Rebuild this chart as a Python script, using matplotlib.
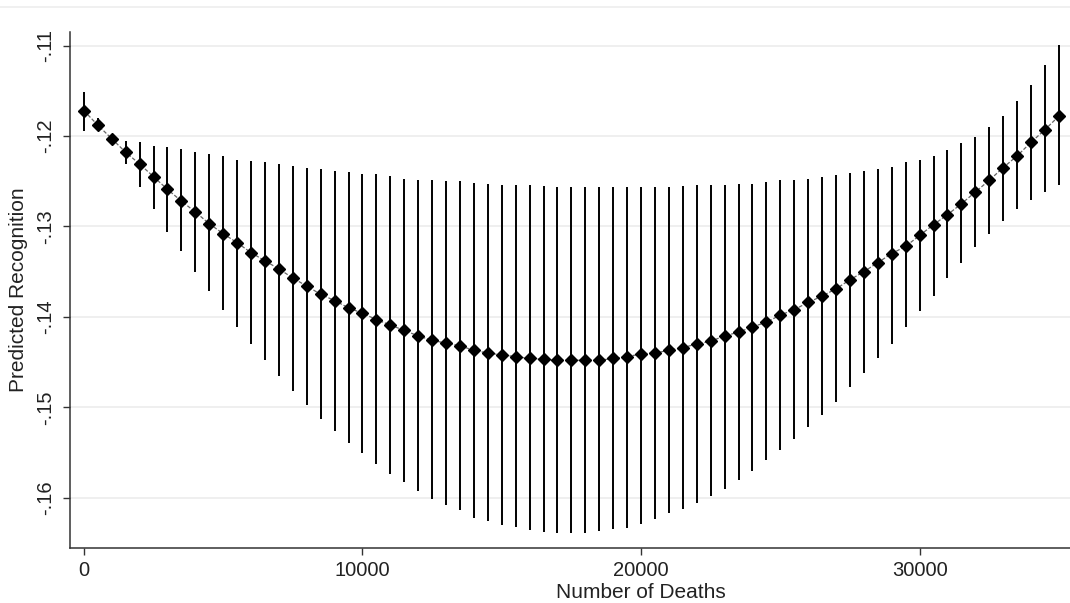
import numpy as np
import matplotlib
matplotlib.use("Agg")
import matplotlib.pyplot as plt
from matplotlib.lines import Line2D

# number of deaths (x) at which margins were evaluated
deaths = list(range(0, 35001, 500))

# predicted recognition (point estimates)
estimate = [
    -.1172, -.1188, -.1203, -.1218, -.1231, -.1245, -.1259, -.1272, -.1284, -.1297,
    -.1308, -.1318, -.1329, -.1338, -.1347, -.1357, -.1366, -.1375, -.1382, -.1390,
    -.1396, -.1403, -.1409, -.1415, -.1421, -.1426, -.1429, -.1432, -.1437, -.1440,
    -.1442, -.1444, -.1446, -.1447, -.1448, -.1448, -.1448, -.1448, -.1446, -.1444,
    -.1441, -.1440, -.1437, -.1434, -.1430, -.1427, -.1421, -.1417, -.1411, -.1406,
    -.1398, -.1392, -.1384, -.1377, -.1369, -.1359, -.1350, -.1340, -.1330, -.1322,
    -.1310, -.1298, -.1287, -.1275, -.1262, -.1249, -.1235, -.1222, -.1207, -.1193,
    -.1178,
]

# upper end of the confidence interval
ci_hi = [
    -.1151, -.1180, -.1200, -.1205, -.1207, -.1211, -.1212, -.1214, -.1218, -.1220,
    -.1222, -.1226, -.1228, -.1229, -.1231, -.1233, -.1235, -.1237, -.1239, -.1240,
    -.1242, -.1242, -.1244, -.1247, -.1249, -.1249, -.1250, -.1250, -.1252, -.1253,
    -.1254, -.1254, -.1254, -.1255, -.1256, -.1256, -.1256, -.1256, -.1256, -.1256,
    -.1256, -.1256, -.1256, -.1255, -.1254, -.1254, -.1254, -.1253, -.1253, -.1251,
    -.1249, -.1249, -.1247, -.1245, -.1243, -.1241, -.1239, -.1236, -.1234, -.1229,
    -.1226, -.1222, -.1216, -.1208, -.1201, -.1190, -.1178, -.1161, -.1144, -.1122,
    -.1099,
]

# lower end of the confidence interval
ci_lo = [
    -.1194, -.1195, -.1205, -.1231, -.1256, -.1281, -.1306, -.1327, -.1350, -.1371,
    -.1392, -.1411, -.1430, -.1448, -.1465, -.1482, -.1498, -.1513, -.1526, -.1540,
    -.1551, -.1563, -.1574, -.1583, -.1593, -.1601, -.1608, -.1614, -.1622, -.1626,
    -.1630, -.1632, -.1636, -.1638, -.1639, -.1639, -.1639, -.1637, -.1635, -.1633,
    -.1629, -.1624, -.1617, -.1613, -.1606, -.1598, -.1590, -.1580, -.1570, -.1558,
    -.1547, -.1535, -.1522, -.1509, -.1494, -.1478, -.1462, -.1446, -.1430, -.1411,
    -.1394, -.1377, -.1357, -.1340, -.1323, -.1308, -.1294, -.1281, -.1271, -.1262,
    -.1254,
]

xticks = [0, 10000, 20000, 30000]
yticks = [-.16, -.15, -.14, -.13, -.12, -.11]
ytick_labels = ["-.16", "-.15", "-.14", "-.13", "-.12", "-.11"]

plt.rcParams["font.family"] = ["Liberation Sans", "DejaVu Sans"]

fig = plt.figure(figsize=(10.7, 6.03), dpi=100)
ax = fig.add_axes([0.0654, 0.0912, 0.9346, 0.856])

# graph region border at the very top
fig.add_artist(Line2D([0, 1], [0.988, 0.988], color="#eeeeee", lw=1.2))

ax.vlines(deaths, ci_lo, ci_hi, color="black", lw=1.4, zorder=2)
ax.plot(deaths, estimate, color="#666666", lw=0.9, ls=(0, (3, 1.5)), zorder=3)
ax.plot(deaths, estimate, ls="none", marker="D", ms=6, color="black", zorder=4)

ax.set_xlim(-500, 35400)
ax.set_ylim(-.16556, -.10848)

ax.set_xticks(xticks)
ax.set_xticklabels([str(t) for t in xticks])
ax.set_yticks(yticks)
ax.set_yticklabels(ytick_labels, rotation=90, va="center")

ax.grid(axis="y", color="#eeeeee", lw=1.3)
ax.set_axisbelow(True)

for side in ["top", "right"]:
    ax.spines[side].set_visible(False)
for side in ["left", "bottom"]:
    ax.spines[side].set_color("#333333")
    ax.spines[side].set_linewidth(1.1)

ax.tick_params(axis="both", direction="out", length=5, width=1, color="#333333",
               labelcolor="#222222", labelsize=14.5)
ax.tick_params(axis="x", pad=4)
ax.tick_params(axis="y", pad=6)

ax.set_xlabel("Number of Deaths", fontsize=15, color="#222222")
ax.xaxis.set_label_coords(0.571, -0.068)
ax.set_ylabel("Predicted Recognition", fontsize=15, color="#222222")
ax.yaxis.set_label_coords(-0.042, 0.5)

fig.savefig("out.png", dpi=100, facecolor="white")
